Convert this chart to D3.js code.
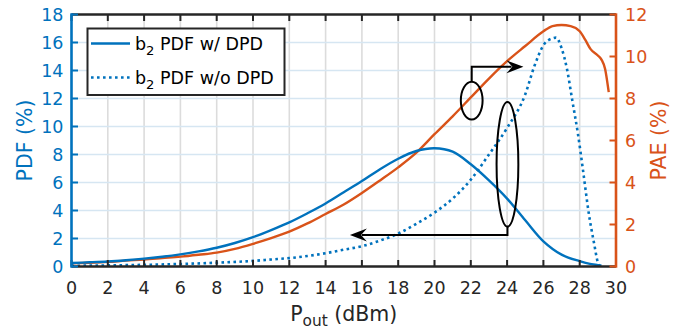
<!DOCTYPE html>
<html><head><meta charset="utf-8">
<script src="https://cdn.jsdelivr.net/npm/d3@7"></script>
<style>
html,body{margin:0;padding:0;background:#fff;}
svg{display:block;font-family:"DejaVu Sans",sans-serif;}
</style></head>
<body><svg id="c" width="699" height="335"></svg>
<script>
// ---- data ----
const xTicks = [0,2,4,6,8,10,12,14,16,18,20,22,24,26,28,30];
const pdfTicks = [0,2,4,6,8,10,12,14,16,18];
const paeTicks = [0,2,4,6,8,10,12];

const pdfWithX = [0,1,2,3,4,5,6,7,8,9,10,11,12,13,14,15,16,17,18,19,20,21,22,23,24,25,26,27,28,28.5,29,29.2];
const pdfWithY = [0.25,0.3,0.36,0.45,0.56,0.7,0.87,1.08,1.34,1.68,2.1,2.6,3.15,3.8,4.5,5.3,6.1,6.95,7.7,8.25,8.45,8.2,7.3,6.15,4.85,3.3,1.8,0.85,0.38,0.2,0.1,0.06];

const pdfWithoutX = [0,2,4,6,8,10,11,12,13,14,15,16,17,18,19,20,21,22,23,24,25,25.5,26,26.5,26.7,27,27.3,27.6,27.9,28.2,28.5,28.8,29,29.1];
const pdfWithoutY = [0.05,0.08,0.12,0.18,0.27,0.4,0.5,0.6,0.75,0.95,1.2,1.45,1.85,2.35,3.05,3.85,4.85,6.2,8.0,9.9,12.3,14.3,15.8,16.3,16.35,15.6,14.1,11.8,9.5,6.7,3.8,1.6,0.3,0.05];

const paeX = [0,1,2,3,4,5,6,7,8,9,10,11,12,13,14,15,16,17,18,19,20,21,22,23,24,25,26,26.5,27,27.5,28,28.3,28.6,29,29.2,29.4,29.5,29.6];
const paeY = [0.15,0.18,0.22,0.28,0.33,0.4,0.47,0.56,0.66,0.84,1.08,1.35,1.66,2.05,2.5,2.95,3.5,4.1,4.72,5.42,6.3,7.15,8.05,8.95,9.78,10.5,11.2,11.45,11.5,11.45,11.2,10.8,10.35,10.05,9.85,9.4,8.9,8.3];

const legendLabels = ["b|2| PDF w/ DPD", "b|2| PDF w/o DPD"];

// annotation anchors (data coordinates)
const paeEllipse = {cx:22.05, cy:7.9, rx:0.6, ry:0.9};      // on PAE axis
const paeArrowPath = [[22.05,8.8],[22.05,9.51],[24.9,9.51]]; // PAE axis
const pdfEllipse = {cx:24.02, cy:7.3, rx:0.6, ry:4.45};     // on PDF axis
const pdfArrowPath = [[24.02,2.85],[24.02,2.25],[15.34,2.25]]; // PDF axis

// ---- layout ----
const BLUE = "#0072BD", ORANGE = "#D95319";
const L = 71.5, R = 616, T = 14.5, B = 266.5;
const svg = d3.select("#c");
const x = d3.scaleLinear().domain([0,30]).range([L,R]);
const yP = d3.scaleLinear().domain([0,18]).range([B,T]);
const yA = d3.scaleLinear().domain([0,12]).range([B,T]);

// grid
const grid = svg.append("g");
grid.selectAll("line.v").data(xTicks.slice(1,-1)).join("line")
  .attr("x1",d=>x(d)).attr("x2",d=>x(d)).attr("y1",T).attr("y2",B)
  .attr("stroke","#dcdcdc").attr("stroke-width",1.6);
grid.selectAll("line.h").data(pdfTicks.slice(1,-1)).join("line")
  .attr("y1",d=>yP(d)).attr("y2",d=>yP(d)).attr("x1",L).attr("x2",R)
  .attr("stroke","#d6e6f2").attr("stroke-width",1.6);

// curves
const mk = (xs, ys, ysc, cv) => d3.line().curve(cv).x((d,i)=>x(xs[i])).y(d=>ysc(d))(ys);
svg.append("path").attr("d", mk(paeX, paeY, yA, d3.curveMonotoneX)).attr("fill","none").attr("stroke",ORANGE).attr("stroke-width",2.4);
svg.append("path").attr("d", mk(pdfWithoutX, pdfWithoutY, yP, d3.curveMonotoneX)).attr("fill","none").attr("stroke",BLUE).attr("stroke-width",2.6).attr("stroke-dasharray","2.6,3.4");
svg.append("path").attr("d", mk(pdfWithX, pdfWithY, yP, d3.curveCatmullRom.alpha(0.5))).attr("fill","none").attr("stroke",BLUE).attr("stroke-width",2.4);

// annotations
const ann = svg.append("g").attr("fill","none").attr("stroke","#000").attr("stroke-width",2);
ann.append("ellipse").attr("cx",x(paeEllipse.cx)).attr("cy",yA(paeEllipse.cy))
  .attr("rx",x(paeEllipse.rx)-x(0)).attr("ry",yA(0)-yA(paeEllipse.ry));
ann.append("ellipse").attr("cx",x(pdfEllipse.cx)).attr("cy",yP(pdfEllipse.cy))
  .attr("rx",x(pdfEllipse.rx)-x(0)).attr("ry",yP(0)-yP(pdfEllipse.ry));
const pl = d3.line();
const p1 = paeArrowPath.map(d=>[x(d[0]),yA(d[1])]);
const p2 = pdfArrowPath.map(d=>[x(d[0]),yP(d[1])]);
function arrow(pts){
  const n = pts.length, tip = pts[n-1], prev = pts[n-2];
  const dx = tip[0]-prev[0], dy = tip[1]-prev[1], len = Math.hypot(dx,dy);
  const ux = dx/len, uy = dy/len, hl = 17, hw = 6.5;
  const bx = tip[0]-ux*hl, by = tip[1]-uy*hl;
  const linePts = pts.slice(0,n-1).concat([[tip[0]-ux*hl*0.7, tip[1]-uy*hl*0.7]]);
  ann.append("path").attr("d", pl(linePts));
  const nx = -uy, ny = ux;
  const head = [[tip[0],tip[1]],[bx+nx*hw,by+ny*hw],[tip[0]-ux*hl*0.65,tip[1]-uy*hl*0.65],[bx-nx*hw,by-ny*hw]];
  svg.append("path").attr("d", pl(head)+"Z").attr("fill","#000").attr("stroke","none");
}
arrow(p1); arrow(p2);

// axes frame
const fr = svg.append("g");
fr.append("line").attr("x1",L).attr("x2",R).attr("y1",B).attr("y2",B).attr("stroke","#262626").attr("stroke-width",2.4);
fr.append("line").attr("x1",L).attr("x2",R).attr("y1",T).attr("y2",T).attr("stroke","#262626").attr("stroke-width",2.4);
const tk = 6.5;
fr.selectAll("line.bt").data(xTicks).join("line").attr("x1",d=>x(d)).attr("x2",d=>x(d)).attr("y1",B).attr("y2",B-tk).attr("stroke","#262626").attr("stroke-width",2);
fr.selectAll("line.tt").data(xTicks).join("line").attr("x1",d=>x(d)).attr("x2",d=>x(d)).attr("y1",T).attr("y2",T+tk).attr("stroke","#262626").attr("stroke-width",2);
fr.append("line").attr("x1",L).attr("x2",L).attr("y1",T-1.2).attr("y2",B+1.2).attr("stroke",BLUE).attr("stroke-width",2.6);
fr.selectAll("line.lt").data(pdfTicks).join("line").attr("x1",L).attr("x2",L+tk).attr("y1",d=>yP(d)).attr("y2",d=>yP(d)).attr("stroke",BLUE).attr("stroke-width",2);
fr.append("line").attr("x1",R).attr("x2",R).attr("y1",T-1.2).attr("y2",B+1.2).attr("stroke",ORANGE).attr("stroke-width",2.6);
fr.selectAll("line.rt").data(paeTicks).join("line").attr("x1",R).attr("x2",R-tk).attr("y1",d=>yA(d)).attr("y2",d=>yA(d)).attr("stroke",ORANGE).attr("stroke-width",2);

// tick labels
const FS = 17.5;
svg.selectAll("text.xt").data(xTicks).join("text").attr("x",d=>x(d)).attr("y",B+27)
  .attr("text-anchor","middle").attr("font-size",FS).attr("fill","#262626").text(d=>d);
svg.selectAll("text.yl").data(pdfTicks).join("text").attr("x",L-8).attr("y",d=>yP(d)).attr("dy","0.36em")
  .attr("text-anchor","end").attr("font-size",FS).attr("fill",BLUE).text(d=>d);
svg.selectAll("text.yr").data(paeTicks).join("text").attr("x",R+9).attr("y",d=>yA(d)).attr("dy","0.36em")
  .attr("text-anchor","start").attr("font-size",FS).attr("fill",ORANGE).text(d=>d);

// axis labels
const LF = 20.5;
svg.append("text").attr("transform",`translate(32,${(T+B)/2}) rotate(-90)`).attr("text-anchor","middle")
  .attr("font-size",LF).attr("fill",BLUE).text("PDF (%)");
svg.append("text").attr("transform",`translate(666,${(T+B)/2}) rotate(-90)`).attr("text-anchor","middle")
  .attr("font-size",LF).attr("fill",ORANGE).text("PAE (%)");
const xl = svg.append("text").attr("x",(L+R)/2).attr("y",321).attr("text-anchor","middle").attr("font-size",LF).attr("fill","#262626");
xl.append("tspan").text("P");
xl.append("tspan").attr("dy",5).attr("font-size",LF*0.75).text("out");
xl.append("tspan").attr("dy",-5).text(" (dBm)");

// legend
const lg = svg.append("g");
lg.append("rect").attr("x",87.5).attr("y",28.5).attr("width",197).attr("height",66.5).attr("fill","#fff").attr("stroke","#262626").attr("stroke-width",2);
const rowsY = [43.5, 77.5];
legendLabels.forEach((lab,i)=>{
  const ln = lg.append("line").attr("x1",91).attr("x2",130).attr("y1",rowsY[i]).attr("y2",rowsY[i]).attr("stroke",BLUE).attr("stroke-width",2.4);
  if(i===1) ln.attr("stroke-dasharray","2.6,3.4").attr("stroke-width",2.6);
  const parts = lab.split("|");
  const t = lg.append("text").attr("x",135).attr("y",rowsY[i]).attr("dy","0.36em").attr("font-size",FS).attr("fill","#000");
  t.append("tspan").text(parts[0]);
  t.append("tspan").attr("dy",5).attr("font-size",FS*0.75).text(parts[1]);
  t.append("tspan").attr("dy",-5).text(parts[2]);
});
</script>
</body></html>
